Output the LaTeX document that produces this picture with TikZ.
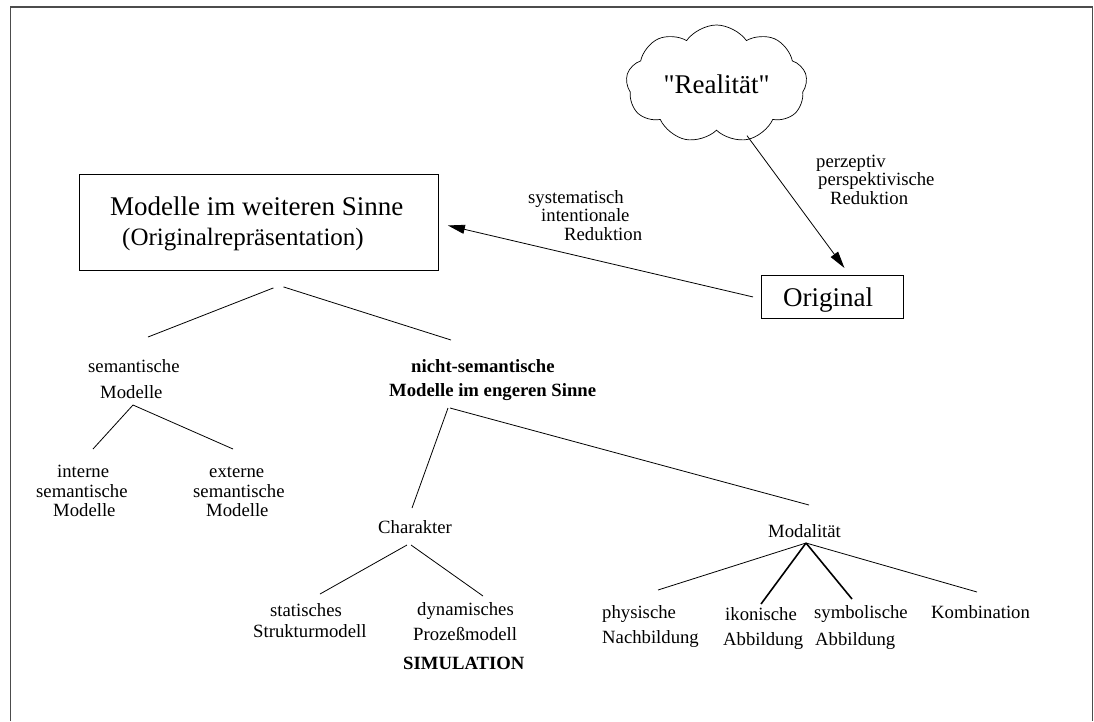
\documentclass[tikz,border=0pt]{standalone}
\usepackage{fontspec}
\setmainfont{Liberation Serif}
% family without the TeX quote mapping, so " stays a straight quote
\newfontfamily\plainserif{Liberation Serif}
\usetikzlibrary{shapes.symbols,arrows.meta}

\begin{document}
\begin{tikzpicture}[x=1pt,y=-1pt,
  txt/.style={anchor=base west, inner sep=0pt, font=\fontsize{18.7}{19}\selectfont},
  txtb/.style={txt, font=\fontsize{18.7}{19}\selectfont\bfseries},
  bigtxt/.style={anchor=base west, inner sep=0pt, font=\fontsize{27}{27}\selectfont},
  midtxt/.style={anchor=base west, inner sep=0pt, font=\fontsize{25}{25}\selectfont},
  boxed/.style={draw, line width=0.9pt, inner sep=0pt, anchor=north west},
  link/.style={line width=0.8pt},
  thicklink/.style={line width=1.6pt},
  arr/.style={line width=0.8pt, -{Triangle[length=17pt,width=9pt]}},
  frameline/.style={draw=black!70, line width=1.6pt}
]
\useasboundingbox (0,0) rectangle (1094,721);

% open frame
\draw[frameline] (10.5,721) -- (10.5,7) -- (1092.5,7) -- (1092.5,721);

% reality cloud
\node[cloud, draw, line width=0.7pt, cloud puffs=9, cloud puff arc=110, aspect=1.55,
      minimum width=181pt, minimum height=118pt, inner sep=0pt,
      font=\plainserif\fontsize{27}{27}\selectfont] (cloud) at (716.5,84) {"Realität"};

% original
\node[boxed, minimum width=142pt, minimum height=43pt] (orig) at (761,275) {};
\node[bigtxt] (origtxt) at (783,306) {Original};

% models in the wider sense
\node[boxed, minimum width=359pt, minimum height=96pt] (wide) at (79,174) {};
\node[bigtxt] (wide1) at (110,215) {Modelle im weiteren Sinne};
\node[midtxt] (wide2) at (122,245) {(Originalrepräsentation)};

% arrow labels
\node[txt] (perz1) at (816,167) {perzeptiv};
\node[txt] (perz2) at (818,185) {perspektivische};
\node[txt] (perz3) at (830,204) {Reduktion};
\node[txt] (syst1) at (528,203) {systematisch};
\node[txt] (syst2) at (541,221.5) {intentionale};
\node[txt] (syst3) at (564,240) {Reduktion};

% reductions
\draw[arr] ([shift={(30.5,5)}]cloud.south) -- ([shift={(12,-7)}]orig.north);
\draw[arr] ([xshift=-8pt]orig.west) -- ([shift={(9,3)}]wide.east);

% first level
\node[txt] (sem1) at (88,372) {semantische};
\node[txt] (sem2) at (100,398) {Modelle};
\node[txtb] (ns1) at (411,372) {nicht-semantische};
\node[txtb] (ns2) at (389,396) {Modelle im engeren Sinne};
\draw[link] ([shift={(14.5,17)}]wide.south) -- ([shift={(60,-35)}]sem1.base west);
\draw[link] ([shift={(24.5,16)}]wide.south) -- ([shift={(40,-32)}]ns1.base west);

% semantic models
\node[txt] (int1) at (57,477) {interne};
\node[txt] (int2) at (36,497) {semantische};
\node[txt] (int3) at (53,516) {Modelle};
\node[txt] (ext1) at (209,477) {externe};
\node[txt] (ext2) at (193,497) {semantische};
\node[txt] (ext3) at (206,516) {Modelle};
\draw[link] ([shift={(33,7)}]sem2.base west) -- ([shift={(36,-28)}]int1.base west);
\draw[link] ([shift={(33,7)}]sem2.base west) -- ([shift={(24,-28)}]ext1.base west);

% non-semantic models
\node[txt] (char) at (378,533) {Charakter};
\node[txt] (mod) at (768,537) {Modalität};
\draw[link] ([shift={(59,12)}]ns2.base west) -- ([shift={(34,-25)}]char.base west);
\draw[link] ([shift={(61,12)}]ns2.base west) -- ([shift={(41,-32)}]mod.base west);

% character
\node[txt] (stat1) at (270,616) {statisches};
\node[txt] (stat2) at (253,637) {Strukturmodell};
\node[txt] (dyn1) at (417,615) {dynamisches};
\node[txt] (dyn2) at (413,640) {Prozeßmodell};
\node[txtb] (sim) at (403,669) {SIMULATION};
\draw[link] ([shift={(29,12)}]char.base west) -- ([shift={(50,-22)}]stat1.base west);
\draw[link] ([shift={(33,12)}]char.base west) -- ([shift={(66,-19)}]dyn1.base west);

% modality
\node[txt] (phys1) at (602,618) {physische};
\node[txt] (phys2) at (602,643) {Nachbildung};
\node[txt] (ikon1) at (725,620) {ikonische};
\node[txt] (ikon2) at (723,645) {Abbildung};
\node[txt] (sym1) at (814,618) {symbolische};
\node[txt] (sym2) at (815,645) {Abbildung};
\node[txt] (komb) at (931,618) {Kombination};
\coordinate (apex) at ([shift={(38,6)}]mod.base west);
\draw[link] (apex) -- ([shift={(56,-28)}]phys1.base west);
\draw[thicklink] (apex) -- ([shift={(36,-16)}]ikon1.base west);
\draw[thicklink] (apex) -- ([shift={(38,-19)}]sym1.base west);
\draw[link] (apex) -- ([shift={(46,-26)}]komb.base west);
\end{tikzpicture}
\end{document}
